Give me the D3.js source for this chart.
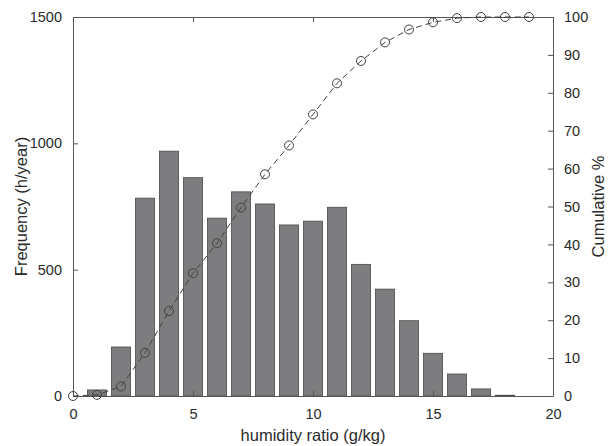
<!DOCTYPE html>
<html>
<head>
<meta charset="utf-8">
<script src="https://cdn.jsdelivr.net/npm/d3@7"></script>
<style>
  body { margin: 0; background: #fff; }
  text { font-family: "Liberation Sans", Arial, sans-serif; fill: #2b2b2b; }
</style>
</head>
<body>
<svg width="615" height="446"></svg>
<script>
// bar bins (g/kg) and hours per year in each bin
var bins = [1, 2, 3, 4, 5, 6, 7, 8, 9, 10, 11, 12, 13, 14, 15, 16, 17, 18];
var hours = [24, 194, 783, 969, 864, 704, 808, 760, 677, 692, 747, 521, 423, 298, 169, 87, 28, 3];

// cumulative percentage points
var cumX = [0, 1, 2, 3, 4, 5, 6, 7, 8, 9, 10, 11, 12, 13, 14, 15, 16, 17, 18, 19];
var cumPct = [0, 0.3, 2.5, 11.4, 22.4, 32.4, 40.3, 49.7, 58.5, 66.1, 74.3, 82.5, 88.4, 93.3, 96.7, 98.6, 99.7, 100, 100, 100];

var xTicks = [0, 5, 10, 15, 20];
var leftTicks = [0, 500, 1000, 1500];
var rightTicks = [0, 10, 20, 30, 40, 50, 60, 70, 80, 90, 100];

var svg = d3.select("svg"),
    margin = {top: 17, right: 62, bottom: 50, left: 73},
    width = 615 - margin.left - margin.right,
    height = 446 - margin.top - margin.bottom,
    g = svg.append("g").attr("transform", "translate(" + margin.left + "," + margin.top + ")");

var xScale = d3.scaleLinear().domain([0, 20]).range([0, width]),
    yLeft = d3.scaleLinear().domain([0, 1500]).range([height, 0]),
    yRight = d3.scaleLinear().domain([0, 100]).range([height, 0]);

var barW = xScale(0.8) - xScale(0);

// bars
g.selectAll(".bar")
    .data(bins)
    .enter().append("rect")
    .attr("class", "bar")
    .attr("x", function(d) { return xScale(d) - barW / 2; })
    .attr("y", function(d, i) { return yLeft(hours[i]); })
    .attr("width", barW)
    .attr("height", function(d, i) { return height - yLeft(hours[i]); })
    .attr("fill", "#7d7d7f")
    .attr("stroke", "#4a4a4a")
    .attr("stroke-width", 0.8);

// axes
var axisColor = "#555";
function styleAxis(sel) {
    sel.selectAll("path").attr("stroke", axisColor);
    sel.selectAll("line").attr("stroke", axisColor);
    sel.selectAll("text").style("font-size", "14.5px").attr("fill", "#2b2b2b");
}

g.append("g")
    .attr("transform", "translate(0," + height + ")")
    .call(d3.axisBottom(xScale).tickValues(xTicks).tickSize(-5).tickSizeOuter(0).tickPadding(13))
    .call(styleAxis);

g.append("g")
    .call(d3.axisTop(xScale).tickValues(xTicks).tickSize(-5).tickSizeOuter(0).tickFormat(""))
    .call(styleAxis);

g.append("g")
    .call(d3.axisLeft(yLeft).tickValues(leftTicks).tickFormat(d3.format("d")).tickSize(-5).tickSizeOuter(0).tickPadding(11))
    .call(styleAxis);

g.append("g")
    .attr("transform", "translate(" + width + ",0)")
    .call(d3.axisRight(yRight).tickValues(rightTicks).tickSize(-5).tickSizeOuter(0).tickPadding(11))
    .call(styleAxis);

// cumulative line
var line = d3.line()
    .x(function(d, i) { return xScale(cumX[i]); })
    .y(function(d) { return yRight(d); });

g.append("path")
    .datum(cumPct)
    .attr("d", line)
    .attr("fill", "none")
    .attr("stroke", "#404040")
    .attr("stroke-width", 1)
    .attr("stroke-dasharray", "6,4");

g.selectAll(".dot")
    .data(cumPct)
    .enter().append("circle")
    .attr("class", "dot")
    .attr("cx", function(d, i) { return xScale(cumX[i]); })
    .attr("cy", function(d) { return yRight(d); })
    .attr("r", 4.5)
    .attr("fill", "none")
    .attr("stroke", "#404040")
    .attr("stroke-width", 1);

// labels
svg.append("text")
    .attr("x", margin.left + width / 2)
    .attr("y", 441)
    .attr("text-anchor", "middle")
    .style("font-size", "16.5px")
    .text("humidity ratio (g/kg)");

svg.append("text")
    .attr("transform", "translate(27," + (margin.top + height / 2) + ")rotate(-90)")
    .attr("text-anchor", "middle")
    .style("font-size", "16.5px")
    .text("Frequency (h/year)");

svg.append("text")
    .attr("transform", "translate(604," + (margin.top + height / 2) + ")rotate(-90)")
    .attr("text-anchor", "middle")
    .style("font-size", "16.5px")
    .text("Cumulative %");
</script>
</body>
</html>
